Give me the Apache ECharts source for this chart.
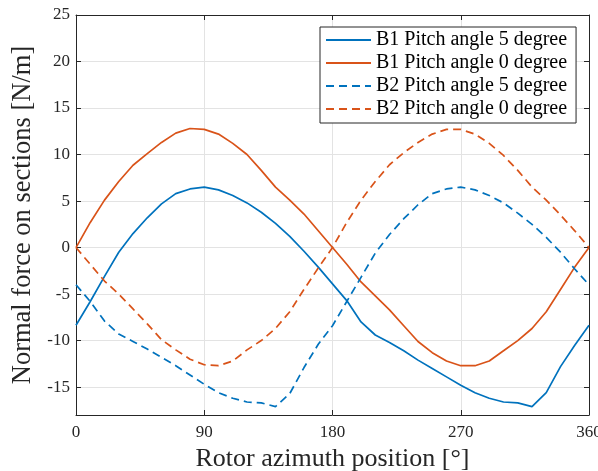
<!DOCTYPE html>
<html><head><meta charset="utf-8">
<script src="https://cdn.jsdelivr.net/npm/echarts@6/dist/echarts.min.js"></script>
<style>html,body{margin:0;padding:0;background:#fff}#c{width:598px;height:471px}</style>
</head><body><div id="c"></div>
<script>
// Rotor azimuth position [deg]
const azimuth = [0,10,20,30,40,50,60,70,80,90,100,110,120,130,140,150,160,170,180,190,200,210,220,230,240,250,260,270,280,290,300,310,320,330,340,350,360];
// B1 Pitch angle 5 degree
const b1Pitch5 = [-8.35,-5.8,-3.1,-0.5,1.5,3.2,4.7,5.8,6.3,6.5,6.2,5.6,4.8,3.8,2.6,1.2,-0.4,-2.1,-3.9,-5.7,-8.0,-9.4,-10.2,-11.1,-12.1,-13.0,-13.9,-14.8,-15.6,-16.2,-16.6,-16.7,-17.1,-15.6,-12.8,-10.5,-8.35];
// B1 Pitch angle 0 degree
const b1Pitch0 = [0,2.7,5.1,7.1,8.85,10.1,11.3,12.3,12.8,12.7,12.2,11.2,10.0,8.3,6.5,5.1,3.6,1.8,0,-1.8,-3.7,-5.2,-6.7,-8.4,-10.1,-11.3,-12.2,-12.7,-12.7,-12.2,-11.1,-10.0,-8.7,-6.9,-4.5,-2.1,0];
// B2 Pitch angle 5 degree
const b2Pitch5 = [-4.0,-5.8,-7.9,-9.3,-10.1,-10.9,-11.8,-12.7,-13.7,-14.7,-15.6,-16.2,-16.6,-16.7,-17.1,-15.7,-12.9,-10.4,-8.4,-5.8,-3.2,-0.6,1.4,3.1,4.6,5.8,6.3,6.5,6.2,5.6,4.8,3.7,2.5,1.1,-0.5,-2.3,-4.0];
// B2 Pitch angle 0 degree
const b2Pitch0 = [0,-1.8,-3.6,-5.0,-6.6,-8.2,-9.9,-11.0,-12.0,-12.6,-12.7,-12.2,-11.0,-10.0,-8.7,-6.9,-4.5,-2.2,0,2.7,5.1,7.1,8.9,10.2,11.3,12.2,12.7,12.7,12.2,11.2,9.9,8.3,6.5,5.1,3.5,1.8,0];

const seriesNames = ['B1 Pitch angle 5 degree','B1 Pitch angle 0 degree','B2 Pitch angle 5 degree','B2 Pitch angle 0 degree'];
const xTicks = [0,90,180,270,360];
const yTicks = [-15,-10,-5,0,5,10,15,20,25];
const xTitle = 'Rotor azimuth position [°]';
const yTitle = 'Normal force on sections [N/m]';

const BLUE = '#0072BD', ORANGE = '#D95319', AX = '#262626';
const FONT = 'Liberation Serif';

function pairs(ys){ return azimuth.map((x,i)=>[x,ys[i]]); }

const chart = echarts.init(document.getElementById('c'), null, {renderer:'canvas'});
chart.setOption({
  animation:false,
  backgroundColor:'#fff',
  grid:{left:76,right:9,top:15,bottom:56,containLabel:false,outerBoundsMode:'none'},
  xAxis:[
    {type:'value',min:0,max:360,position:'bottom',
     name:xTitle,nameLocation:'middle',nameGap:29,
     nameTextStyle:{fontFamily:FONT,fontSize:26,color:AX},
     axisLine:{show:true,onZero:false,lineStyle:{color:AX,width:1}},
     axisTick:{show:true,inside:true,length:5,lineStyle:{color:AX},customValues:xTicks},
     axisLabel:{show:true,margin:9,fontFamily:FONT,fontSize:17,color:AX,customValues:xTicks},
     splitLine:{show:true,lineStyle:{color:'#e3e3e3',width:1}}},
    {type:'value',min:0,max:360,position:'top',
     axisLine:{show:true,onZero:false,lineStyle:{color:AX,width:1}},
     axisTick:{show:true,inside:true,length:5,lineStyle:{color:AX},customValues:xTicks},
     axisLabel:{show:false,customValues:xTicks},
     splitLine:{show:false}}
  ],
  yAxis:[
    {type:'value',min:-18,max:25,position:'left',
     name:yTitle,nameLocation:'middle',nameGap:32,
     nameTextStyle:{fontFamily:FONT,fontSize:26.5,color:AX},
     axisLine:{show:true,onZero:false,lineStyle:{color:AX,width:1}},
     axisTick:{show:true,inside:true,length:5,lineStyle:{color:AX},customValues:yTicks},
     axisLabel:{show:true,margin:6,fontFamily:FONT,fontSize:17,color:AX,customValues:yTicks},
     splitLine:{show:true,lineStyle:{color:'#e3e3e3',width:1}}},
    {type:'value',min:-18,max:25,position:'right',
     axisLine:{show:true,onZero:false,lineStyle:{color:AX,width:1}},
     axisTick:{show:true,inside:true,length:5,lineStyle:{color:AX},customValues:yTicks},
     axisLabel:{show:false,customValues:yTicks},
     splitLine:{show:false}}
  ],
  legend:{
    orient:'vertical',left:320,top:27,
    backgroundColor:'#fff',borderColor:AX,borderWidth:1,borderRadius:0,
    padding:[3,9,4,5],itemGap:3,itemWidth:45,itemHeight:14,
    itemStyle:{opacity:0},
    textStyle:{fontFamily:FONT,fontSize:20,color:'#000'},
    data:seriesNames
  },
  series:[
    {name:seriesNames[0],type:'line',data:pairs(b1Pitch5),symbol:'none',lineStyle:{color:BLUE,width:1.7},itemStyle:{color:BLUE}},
    {name:seriesNames[1],type:'line',data:pairs(b1Pitch0),symbol:'none',lineStyle:{color:ORANGE,width:1.7},itemStyle:{color:ORANGE}},
    {name:seriesNames[2],type:'line',data:pairs(b2Pitch5),symbol:'none',lineStyle:{color:BLUE,width:1.7,type:[8,5]},itemStyle:{color:BLUE}},
    {name:seriesNames[3],type:'line',data:pairs(b2Pitch0),symbol:'none',lineStyle:{color:ORANGE,width:1.7,type:[8,5]},itemStyle:{color:ORANGE}}
  ]
});
</script></body></html>
